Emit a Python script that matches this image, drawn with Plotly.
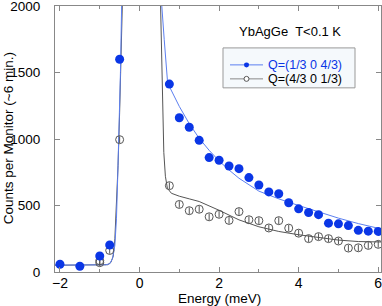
import plotly.graph_objects as go

# ---------------- data ----------------
blue_energy = [-2.0, -1.5, -1.0, -0.75, -0.5,
               0.75, 1.0, 1.25, 1.5, 1.75, 2.0, 2.25, 2.5, 2.75, 3.0, 3.25,
               3.5, 3.75, 4.0, 4.25, 4.5, 4.75, 5.0, 5.25, 5.5, 5.75, 6.0]
blue_counts = [58, 43, 120, 203, 1600,
               1413, 1160, 1088, 990, 860, 840, 797, 777, 710, 654, 602,
               588, 521, 475, 447, 431, 367, 362, 349, 313, 307, 305]

gray_energy = [-1.0, -1.0, -0.75, -0.5,
               0.75, 1.0, 1.25, 1.5, 1.75, 2.0, 2.25, 2.5, 2.75, 3.0, 3.25,
               3.5, 3.75, 4.0, 4.25, 4.5, 4.75, 5.0, 5.25, 5.5, 5.75, 6.0]
gray_counts = [70, 85, 162, 995,
               649, 508, 461, 472, 415, 434, 388, 454, 393, 386, 331,
               386, 330, 292, 251, 266, 251, 233, 180, 182, 200, 208]
gray_err = [25] * len(gray_counts)

blue_fit_x = [-2.2, -1.0, -0.85, -0.75, -0.68, -0.62, -0.58, -0.55, -0.52, -0.48,
              -0.45, -0.42, 0.52, 0.56, 0.62, 0.66, 0.70, 0.75, 1.0, 1.25, 1.5,
              1.75, 2.0, 2.25, 2.5, 3.0, 3.5, 4.0, 4.5, 5.0, 5.5, 6.2]
blue_fit_y = [52, 52, 54, 62, 100, 200, 400, 700, 1000, 1500,
              2000, 2400, 2400, 2000, 1750, 1560, 1445, 1395, 1245, 1115, 1005,
              915, 835, 767, 705, 608, 550, 500, 452, 405, 364, 315]

gray_fit_x = [-2.2, -0.9, -0.8, -0.72, -0.66, -0.62, -0.58, -0.54, -0.5, -0.46,
              -0.43, -0.40, 0.50, 0.53, 0.57, 0.61, 0.65, 0.70, 0.8, 1.0, 1.25,
              1.5, 2.0, 2.5, 3.0, 3.5, 4.0, 4.5, 5.0, 5.5, 6.2]
gray_fit_y = [50, 50, 55, 72, 120, 250, 500, 800, 1200, 1700,
              2000, 2400, 2400, 2000, 1400, 900, 720, 630, 592, 570, 550,
              530, 464, 392, 340, 305, 280, 258, 240, 229, 225]

x_ticks = [-2, 0, 2, 4, 6]
y_ticks = [0, 500, 1000, 1500, 2000]

label_blue = "Q=(1/3 0 4/3)"
label_gray = "Q=(4/3 0 1/3)"
title_text = "YbAgGe\u00a0 T<0.1 K"
x_title = "Energy (meV)"
y_title = "Counts per Monitor (~6 min.)"

BLUE = "#0a36e6"
BLUE_LINE = "#5c7ff0"
GRAY = "#555555"
AX = "#888888"
FONT = "Liberation Sans, Arial, sans-serif"

fig = go.Figure()
fig.add_trace(go.Scatter(x=gray_fit_x, y=gray_fit_y, mode="lines",
                         line=dict(color=GRAY, width=1), showlegend=False))
fig.add_trace(go.Scatter(x=blue_fit_x, y=blue_fit_y, mode="lines",
                         line=dict(color=BLUE_LINE, width=1), showlegend=False))
fig.add_trace(go.Scatter(x=gray_energy, y=gray_counts, mode="markers",
                         marker=dict(size=8, color="rgba(255,255,255,0)",
                                     line=dict(color=GRAY, width=1)),
                         error_y=dict(type="data", array=gray_err, color=GRAY,
                                      thickness=1, width=0),
                         showlegend=False))
fig.add_trace(go.Scatter(x=blue_energy, y=blue_counts, mode="markers",
                         marker=dict(size=9, color=BLUE, line=dict(width=0)),
                         showlegend=False))

# plot-area geometry (pixels)
L, R, T, B = 55, 381, 6, 272.5


def px(xp):
    return (xp - L) / (R - L)


def py(yp):
    return (B - yp) / (B - T)


ly1, ly2 = 65, 79
shapes = [
    dict(type="rect", xref="paper", yref="paper", x0=px(223), x1=px(355),
         y0=py(88), y1=py(48), line=dict(color="#999999", width=1),
         fillcolor="#f5f9fc", layer="above"),
    dict(type="line", xref="paper", yref="paper", x0=px(230), x1=px(263),
         y0=py(ly1), y1=py(ly1), line=dict(color=BLUE_LINE, width=1)),
    dict(type="line", xref="paper", yref="paper", x0=px(230), x1=px(263),
         y0=py(ly2), y1=py(ly2), line=dict(color="#888888", width=1)),
    dict(type="circle", xref="paper", yref="paper", x0=px(244), x1=px(249),
         y0=py(ly1 + 2.5), y1=py(ly1 - 2.5), fillcolor=BLUE,
         line=dict(color=BLUE, width=0)),
    dict(type="circle", xref="paper", yref="paper", x0=px(244), x1=px(249),
         y0=py(ly2 + 2.5), y1=py(ly2 - 2.5), fillcolor="#ffffff",
         line=dict(color=GRAY, width=1)),
]

annotations = [
    dict(text=title_text, xref="paper", yref="paper", x=px(290), y=py(31.5),
         showarrow=False, font=dict(size=13, color="black", family=FONT),
         xanchor="center", yanchor="middle"),
    dict(text=label_blue, xref="paper", yref="paper", x=px(266), y=py(ly1),
         showarrow=False, font=dict(size=12.5, color=BLUE, family=FONT),
         xanchor="left", yanchor="middle"),
    dict(text=label_gray, xref="paper", yref="paper", x=px(266), y=py(ly2),
         showarrow=False, font=dict(size=12.5, color="black", family=FONT),
         xanchor="left", yanchor="middle"),
    dict(text=x_title, xref="paper", yref="paper", x=px(219), y=py(299),
         showarrow=False, font=dict(size=13.5, color="black", family=FONT),
         xanchor="center", yanchor="middle"),
    dict(text=y_title, xref="paper", yref="paper", x=px(8.5), y=py(139),
         showarrow=False, textangle=-90,
         font=dict(size=13.5, color="black", family=FONT),
         xanchor="center", yanchor="middle"),
]

fig.update_layout(
    width=382, height=306,
    margin=dict(l=L, r=382 - R, t=T, b=306 - B, pad=0, autoexpand=False),
    paper_bgcolor="white", plot_bgcolor="white",
    font=dict(family=FONT, size=14, color="black"),
    showlegend=False,
    shapes=shapes, annotations=annotations,
    xaxis=dict(range=[-2.125, 6.07], tickvals=x_ticks, ticks="inside", ticklen=5,
               tickcolor=AX, showline=True, linecolor=AX, linewidth=1,
               mirror="ticks", showgrid=False, zeroline=False, automargin=False,
               ticklabeloverflow="allow", ticklabelstandoff=-2,
               minor=dict(ticks="inside", ticklen=3, dtick=1, tick0=0,
                          tickcolor=AX, showgrid=False),
               tickfont=dict(size=14)),
    yaxis=dict(range=[0, 2000], tickvals=y_ticks, ticks="inside", ticklen=5,
               tickcolor=AX, showline=True, linecolor=AX, linewidth=1,
               mirror="ticks", showgrid=False, zeroline=False, automargin=False,
               ticklabeloverflow="allow",
               tickfont=dict(size=13.5), ticklabelstandoff=11),
)

fig.write_html("out.html",
               config={"displayModeBar": False, "staticPlot": True},
               post_script="document.body.style.margin='0';"
                           "document.body.style.overflow='hidden';")
